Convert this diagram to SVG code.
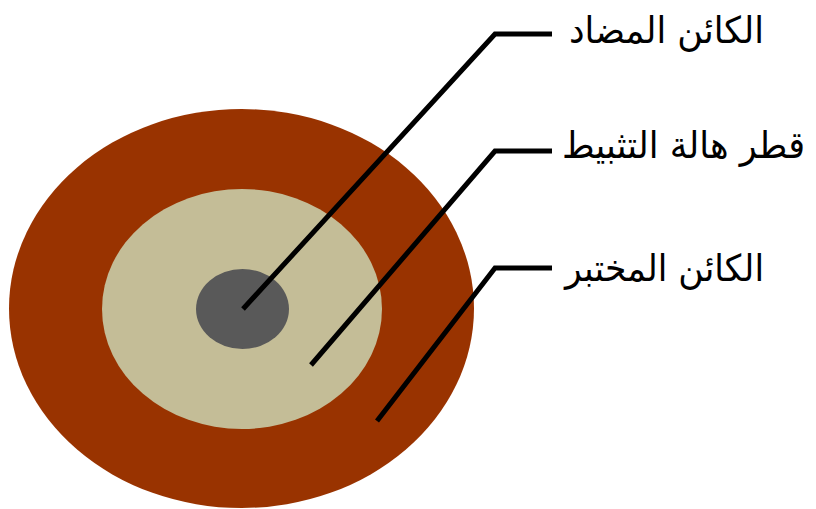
<svg xmlns="http://www.w3.org/2000/svg" width="816" height="509" viewBox="0 0 816 509">
<style>
.lbl{font-family:"DejaVu Sans","Noto Sans",sans-serif;font-size:37px;fill:#000;direction:rtl;text-anchor:middle}
.con{fill:none;stroke:#000;stroke-width:5;stroke-linejoin:miter}
</style>
<rect width="816" height="509" fill="#fff"/>
<g id="outer"><ellipse cx="241.5" cy="308.5" rx="232.5" ry="199.5" fill="#993300"/></g>
<g id="halo"><ellipse cx="242" cy="309" rx="140" ry="120" fill="#c4bd97"/></g>
<g id="center"><ellipse cx="242.5" cy="309" rx="46.5" ry="40" fill="#595959"/></g>
<g id="connectors">
<polyline class="con" points="243,309 495,34 552,34"/>
<polyline class="con" points="311,365 495,151 552,151"/>
<polyline class="con" points="377,421 495,268 552,268"/>
</g>
<g id="label1"><text class="lbl" x="666.5" y="43" textLength="195" lengthAdjust="spacingAndGlyphs">الكائن المضاد</text></g>
<g id="label2"><text class="lbl" x="683.5" y="158" textLength="243" lengthAdjust="spacingAndGlyphs">قطر هالة التثبيط</text></g>
<g id="label3"><text class="lbl" x="664.5" y="281" textLength="199" lengthAdjust="spacingAndGlyphs">الكائن المختبر</text></g>
</svg>
